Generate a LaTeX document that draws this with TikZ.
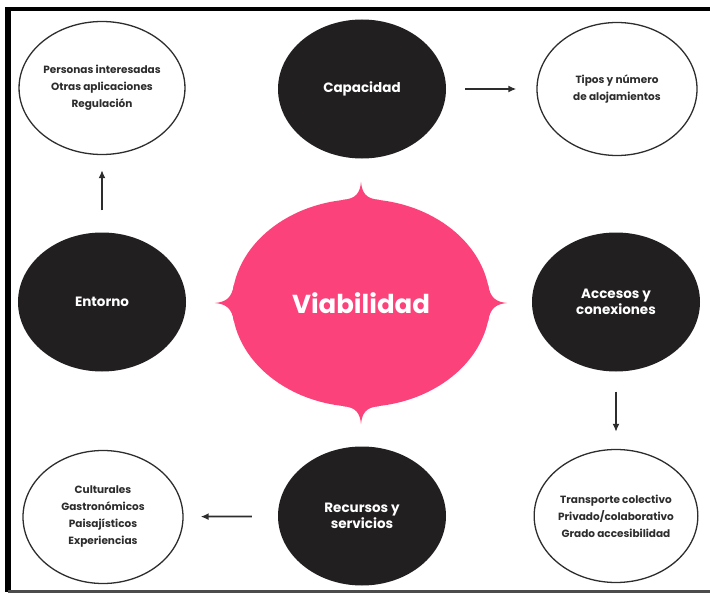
\documentclass[tikz,border=0pt]{standalone}
\usepackage{fontspec}
\setmainfont{Poppins}
\usetikzlibrary{arrows.meta, positioning, shapes.geometric, calc}
\definecolor{viapink}{RGB}{252, 66, 122}
\definecolor{nodeblack}{RGB}{34, 31, 32}
\definecolor{edgegray}{RGB}{45, 45, 45}

\begin{document}
\begin{tikzpicture}[
    x=1pt, y=-1pt,
    core/.style={ellipse, fill=nodeblack, minimum width=168pt, minimum height=139pt, inner sep=0pt, text=white, font=\bfseries\fontsize{13.5}{16}\selectfont, align=center},
    detail/.style={ellipse, draw=edgegray, line width=1.3pt, fill=white, minimum width=160pt, minimum height=133pt, inner sep=0pt, text=edgegray, font=\bfseries\fontsize{10.5}{17}\selectfont, align=center},
    arrow/.style={-{Latex[length=8pt, width=7pt]}, line width=1.7pt, edgegray}
]
\useasboundingbox (0,0) rectangle (710,594);

% Frame
\draw[line width=4pt] (710,9.5) -- (8,9.5);
\draw[line width=6pt] (8,7.5) -- (8,592);
\draw[line width=3pt, black!70] (8,591) -- (710,591);

% Centre
\node[ellipse, fill=viapink, minimum width=258pt, minimum height=208pt, inner sep=0pt, text=white, font=\bfseries\fontsize{26}{30}\selectfont] (via) at (361,303) {Viabilidad};

% Spikes of the centre
\fill[viapink] ($(via.north)+(-18,1)$) .. controls ($(via.north)+(-5,0)$) and ($(via.north)+(-1,-6)$) .. ($(via.north)+(0,-17)$) .. controls ($(via.north)+(1,-6)$) and ($(via.north)+(5,0)$) .. ($(via.north)+(18,1)$) -- cycle;
\fill[viapink] ($(via.south)+(-18,-1)$) .. controls ($(via.south)+(-5,0)$) and ($(via.south)+(-1,6)$) .. ($(via.south)+(0,17)$) .. controls ($(via.south)+(1,6)$) and ($(via.south)+(5,0)$) .. ($(via.south)+(18,-1)$) -- cycle;
\fill[viapink] ($(via.west)+(2,-18)$) .. controls ($(via.west)+(0,-5)$) and ($(via.west)+(-6,-1)$) .. ($(via.west)+(-17,0)$) .. controls ($(via.west)+(-6,1)$) and ($(via.west)+(0,5)$) .. ($(via.west)+(2,18)$) -- cycle;
\fill[viapink] ($(via.east)+(-2,-18)$) .. controls ($(via.east)+(0,-5)$) and ($(via.east)+(6,-1)$) .. ($(via.east)+(17,0)$) .. controls ($(via.east)+(6,1)$) and ($(via.east)+(0,5)$) .. ($(via.east)+(-2,18)$) -- cycle;

% Black circles
\node[core] (cap) at (362,89) {Capacidad};
\node[core] (ent) at (102,302) {Entorno};
\node[core] (acc) at (616,302) {Accesos y\\conexiones};
\node[core] (rec) at (362,516) {Recursos y\\servicios};

% White circles
\node[detail] (per) at (102,88) {Personas interesadas\\Otras aplicaciones\\Regulación};
\node[detail] (tip) at (617,89) {Tipos y número\\de alojamientos};
\node[detail] (tra) at (616,516) {Transporte colectivo\\Privado/colaborativo\\Grado accesibilidad};
\node[detail] (cul) at (103,517) {Culturales\\Gastronómicos\\Paisajísticos\\Experiencias};

% Arrows
\draw[arrow, shorten <=22pt, shorten >=15pt] (ent) -- (per);
\draw[arrow, shorten <=19pt, shorten >=20pt] (cap) -- (tip);
\draw[arrow, shorten <=20pt, shorten >=17pt] (acc) -- (tra);
\draw[arrow, shorten <=26pt, shorten >=17pt] (rec) -- (cul);

\end{tikzpicture}
\end{document}
